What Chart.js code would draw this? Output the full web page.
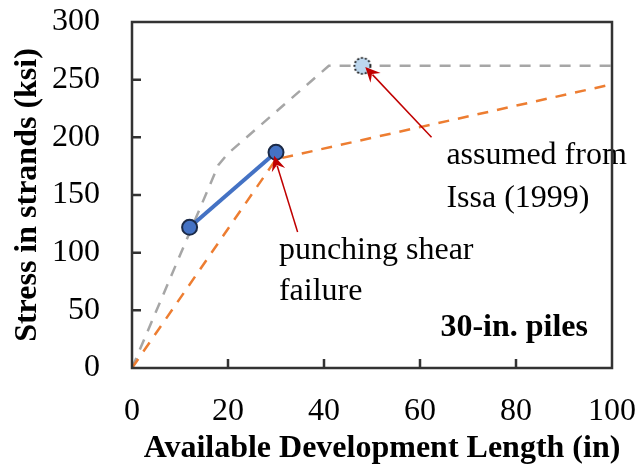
<!DOCTYPE html>
<html>
<head>
<meta charset="utf-8">
<script src="https://cdn.jsdelivr.net/npm/chart.js@4.4.1/dist/chart.umd.min.js"></script>
<style>
  body { margin: 0; background: #fff; }
  #wrap { width: 639px; height: 467px; }
</style>
</head>
<body>
<div id="wrap"><canvas id="stressChart" width="639" height="467"></canvas></div>
<script>
// data (x = available development length in, y = stress ksi)
const grayX = [0, 18, 20, 41, 100];
const grayY = [0, 176, 186, 262, 262];
const orangeX = [0, 30, 100];
const orangeY = [0, 181, 246];
const testX = [12, 30];
const testY = [122, 187];
const assumedX = [48];
const assumedY = [262];

const xTicks = [0, 20, 40, 60, 80, 100];
const yTicks = [0, 50, 100, 150, 200, 250, 300];

// notes and arrows, anchored in data units
const notes = [
  { text: "assumed from", x: 65.5, y: 184, bold: false, align: "left" },
  { text: "Issa (1999)", x: 65.5, y: 147, bold: false, align: "left" },
  { text: "punching shear", x: 30.6, y: 102, bold: false, align: "left" },
  { text: "failure", x: 30.6, y: 66, bold: false, align: "left" },
  { text: "30-in. piles", x: 95, y: 35, bold: true, align: "right" }
];
const arrows = [
  { from: [62.4, 200], to: [48.6, 261] },
  { from: [34.5, 118], to: [29.6, 184] }
];

const FONT = "'Liberation Serif', 'Times New Roman', serif";
Chart.defaults.font.family = FONT;
Chart.defaults.color = "#000";

function toXY(xs, ys) {
  return xs.map((x, i) => ({ x: x, y: ys[i] }));
}

// dotted circle marker for the assumed point
function dottedMarker() {
  const c = document.createElement("canvas");
  c.width = 20; c.height = 20;
  const g = c.getContext("2d");
  g.beginPath();
  g.arc(10, 10, 8, 0, Math.PI * 2);
  g.fillStyle = "#BDD7EE";
  g.fill();
  g.setLineDash([2, 2]);
  g.lineWidth = 1.6;
  g.strokeStyle = "#000";
  g.stroke();
  return c;
}

function noPad(s) {
  s.paddingTop = 0; s.paddingBottom = 0;
  s.paddingLeft = 0; s.paddingRight = 0;
}

const framePlugin = {
  id: "frame",
  afterDatasetsDraw(chart) {
    const ctx = chart.ctx;
    const a = chart.chartArea;
    const xs = chart.scales.x, ys = chart.scales.y;
    ctx.save();
    // arrows
    ctx.strokeStyle = "#C00000";
    ctx.fillStyle = "#C00000";
    ctx.lineWidth = 1.5;
    arrows.forEach(ar => {
      const x1 = xs.getPixelForValue(ar.from[0]), y1 = ys.getPixelForValue(ar.from[1]);
      const x2 = xs.getPixelForValue(ar.to[0]), y2 = ys.getPixelForValue(ar.to[1]);
      const ang = Math.atan2(y2 - y1, x2 - x1);
      const hl = 15, hw = 7;
      ctx.beginPath();
      ctx.moveTo(x1, y1);
      ctx.lineTo(x2 - Math.cos(ang) * hl * 0.7, y2 - Math.sin(ang) * hl * 0.7);
      ctx.stroke();
      ctx.beginPath();
      ctx.moveTo(x2, y2);
      ctx.lineTo(x2 - Math.cos(ang) * hl + Math.sin(ang) * hw, y2 - Math.sin(ang) * hl - Math.cos(ang) * hw);
      ctx.lineTo(x2 - Math.cos(ang) * hl * 0.65, y2 - Math.sin(ang) * hl * 0.65);
      ctx.lineTo(x2 - Math.cos(ang) * hl - Math.sin(ang) * hw, y2 - Math.sin(ang) * hl + Math.cos(ang) * hw);
      ctx.closePath();
      ctx.fill();
    });
    // text notes
    ctx.fillStyle = "#000";
    ctx.textBaseline = "middle";
    notes.forEach(n => {
      ctx.font = (n.bold ? "bold " : "") + "32px " + FONT;
      ctx.textAlign = n.align;
      ctx.fillText(n.text, xs.getPixelForValue(n.x), ys.getPixelForValue(n.y));
    });
    // box + inward ticks
    ctx.strokeStyle = "#333";
    ctx.lineWidth = 2.5;
    ctx.strokeRect(a.left, a.top, a.right - a.left, a.bottom - a.top);
    ctx.beginPath();
    yTicks.slice(1, -1).forEach(v => {
      const p = ys.getPixelForValue(v);
      ctx.moveTo(a.left, p); ctx.lineTo(a.left + 9, p);
    });
    xTicks.slice(1, -1).forEach(v => {
      const p = xs.getPixelForValue(v);
      ctx.moveTo(p, a.bottom); ctx.lineTo(p, a.bottom - 9);
    });
    ctx.stroke();
    // x axis title
    ctx.font = "bold 32px " + FONT;
    ctx.textAlign = "center";
    ctx.fillText("Available Development Length (in)", (a.left + a.right) / 2 + 10, 449);
    ctx.restore();
  }
};

new Chart(document.getElementById("stressChart"), {
  type: "scatter",
  data: {
    datasets: [
      {
        label: "assumed",
        data: toXY(assumedX, assumedY),
        pointStyle: dottedMarker(),
        pointRadius: 10
      },
      {
        label: "test",
        data: toXY(testX, testY),
        showLine: true,
        borderColor: "#4472C4",
        borderWidth: 4,
        pointRadius: 7.5,
        pointBackgroundColor: "#4472C4",
        pointBorderColor: "#1B2A47",
        pointBorderWidth: 2
      },
      {
        label: "orange",
        data: toXY(orangeX, orangeY),
        showLine: true,
        borderColor: "#ED7D31",
        borderWidth: 2.5,
        borderDash: [11, 9],
        pointRadius: 0
      },
      {
        label: "gray",
        data: toXY(grayX, grayY),
        showLine: true,
        borderColor: "#A6A6A6",
        borderWidth: 2.5,
        borderDash: [11, 9],
        pointRadius: 0
      }
    ]
  },
  options: {
    responsive: false,
    animation: false,
    layout: { padding: { top: 22, right: 27, left: 0, bottom: 0 } },
    plugins: { legend: { display: false }, tooltip: { enabled: false } },
    scales: {
      x: {
        type: "linear",
        min: 0, max: 100,
        afterBuildTicks: s => { s.ticks = xTicks.map(v => ({ value: v })); },
        afterFit: s => { s.height = 99; noPad(s); },
        grid: { display: false, drawTicks: false },
        border: { display: false },
        ticks: { font: { size: 32 }, color: "#000", padding: 24, maxRotation: 0 }
      },
      y: {
        type: "linear",
        min: 0, max: 300,
        afterBuildTicks: s => { s.ticks = yTicks.map(v => ({ value: v })); },
        afterFit: s => { s.width = 132; noPad(s); },
        grid: { display: false, drawTicks: false },
        border: { display: false },
        ticks: { font: { size: 32 }, color: "#000", padding: 32 },
        title: {
          display: true,
          text: "Stress in strands (ksi)",
          font: { size: 32, weight: "bold", lineHeight: 1 },
          color: "#000",
          padding: { top: 12, bottom: 0 }
        }
      }
    }
  },
  plugins: [framePlugin]
});
</script>
</body>
</html>
